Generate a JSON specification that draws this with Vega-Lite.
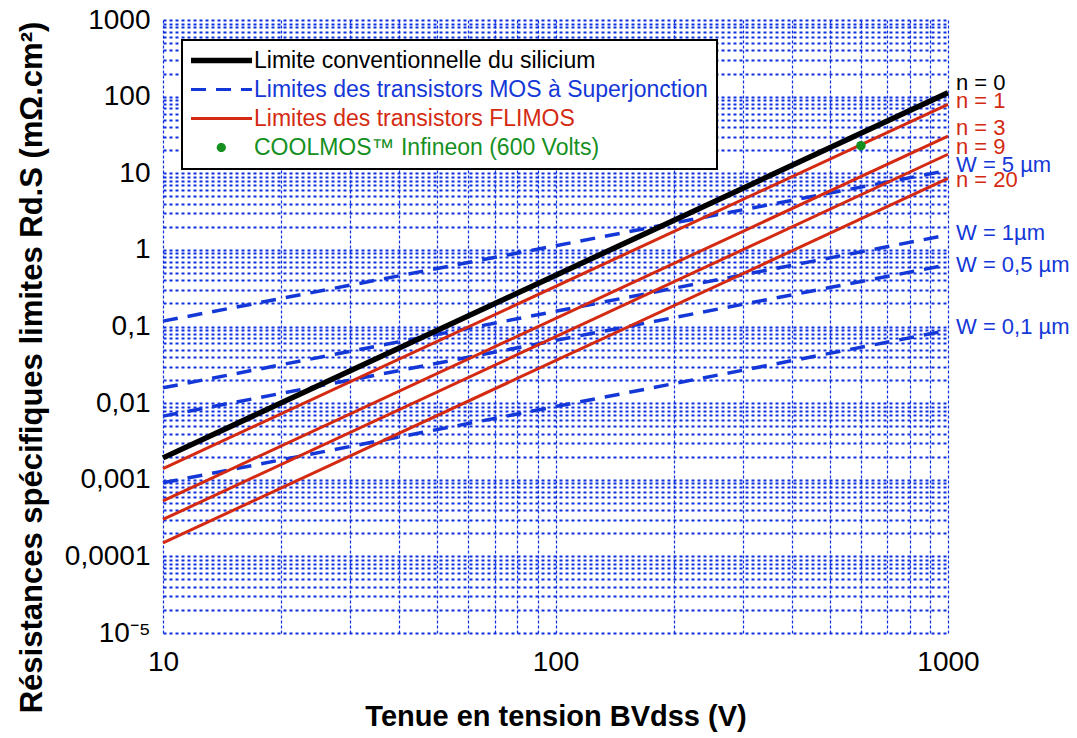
{
  "$schema": "https://vega.github.io/schema/vega-lite/v6.json",
  "width": 785,
  "height": 613,
  "autosize": {"type": "none"},
  "padding": {"left": 163, "top": 20, "right": 129, "bottom": 105},
  "background": "white",
  "config": {
    "view": {"stroke": null},
    "font": "Liberation Sans",
    "axis": {"domain": false, "ticks": false, "tickSize": 0, "labelOverlap": false, "labelFlush": false, "labelBound": false, "gridOpacity": 1, "labelColor": "black", "titleColor": "black", "labelFont": "Liberation Sans", "titleFont": "Liberation Sans", "titleFontWeight": "bold"}
  },
  "encoding": {
    "x": {
      "field": "bv", "type": "quantitative",
      "scale": {"type": "log", "domain": [10, 1000], "nice": false, "zero": false},
      "axis": {
        "values": [10, 20, 30, 40, 50, 60, 70, 80, 90, 100, 200, 300, 400, 500, 600, 700, 800, 900, 1000],
        "labelExpr": "indexof([10, 100, 1000], datum.value) >= 0 ? toString(datum.value) : ''",
        "labelFontSize": 28, "labelPadding": 15,
        "grid": true, "gridColor": "#0d2fe0", "gridDash": [3, 2], "gridWidth": 1.2,
        "title": "Tenue en tension BVdss (V)", "titleFontSize": 29, "titlePadding": 26
      }
    },
    "y": {
      "field": "r", "type": "quantitative",
      "scale": {"type": "log", "domain": [0.00001, 1000], "nice": false, "zero": false},
      "axis": {
        "values": [0.00001, 0.00002, 0.00003, 0.00004, 0.00005, 0.00006, 0.00007, 0.00008, 0.00009,
                   0.0001, 0.0002, 0.0003, 0.0004, 0.0005, 0.0006, 0.0007, 0.0008, 0.0009,
                   0.001, 0.002, 0.003, 0.004, 0.005, 0.006, 0.007, 0.008, 0.009,
                   0.01, 0.02, 0.03, 0.04, 0.05, 0.06, 0.07, 0.08, 0.09,
                   0.1, 0.2, 0.3, 0.4, 0.5, 0.6, 0.7, 0.8, 0.9,
                   1, 2, 3, 4, 5, 6, 7, 8, 9,
                   10, 20, 30, 40, 50, 60, 70, 80, 90,
                   100, 200, 300, 400, 500, 600, 700, 800, 900, 1000],
        "labelExpr": "abs(log(datum.value)/LN10 - round(log(datum.value)/LN10)) > 0.001 ? '' : (datum.value < 0.00005 ? '10⁻⁵' : replace(toString(datum.value), '.', ','))",
        "labelFontSize": 28, "labelPadding": 13,
        "grid": true, "gridColor": "#0d2fe0", "gridDash": [3, 3], "gridWidth": 2.2,
        "title": "Résistances spécifiques limites Rd.S (mΩ.cm²)", "titleFontSize": 31, "titlePadding": 16, "titleY": 347
      }
    },
    "color": {
      "field": "series", "type": "nominal",
      "scale": {
        "domain": ["Limite conventionnelle du silicium", "Limites des transistors MOS à Superjonction", "Limites des transistors FLIMOS", "COOLMOS™ Infineon (600 Volts)"],
        "range": ["#000000", "#1438d8", "#d42a12", "#15901f"]
      },
      "legend": {
        "title": null, "orient": "none", "legendX": 19, "legendY": 20, "direction": "vertical",
        "padding": 9, "labelFont": "Liberation Sans", "labelFontSize": 23, "labelOffset": 40, "labelLimit": 700,
        "rowPadding": 5, "symbolSize": 400, "symbolType": "M-1.15,0H4.95", "symbolStrokeWidth": 3,
        "encode": {
          "legend": {"update": {"stroke": {"value": "black"}, "strokeWidth": {"value": 2}, "fill": {"value": "white"}}},
          "symbols": {"update": {
            "shape": {"signal": "datum.value === 'COOLMOS™ Infineon (600 Volts)' ? 'M2.34,0A0.46,0.46,0,1,1,1.42,0A0.46,0.46,0,1,1,2.34,0Z' : 'M-1.15,0H4.95'"},
            "strokeDash": {"signal": "datum.value === 'Limites des transistors MOS à Superjonction' ? [15, 10] : [1, 0]"},
            "strokeWidth": {"signal": "datum.value === 'Limite conventionnelle du silicium' ? 5.5 : (datum.value === 'COOLMOS™ Infineon (600 Volts)' ? 0 : 3)"},
            "fill": {"signal": "datum.value === 'COOLMOS™ Infineon (600 Volts)' ? '#15901f' : 'transparent'"},
            "stroke": {"signal": "datum.value === 'Limite conventionnelle du silicium' ? '#000000' : (datum.value === 'Limites des transistors MOS à Superjonction' ? '#1438d8' : (datum.value === 'Limites des transistors FLIMOS' ? '#d42a12' : '#15901f'))"},
            "size": {"value": 400},
            "opacity": {"value": 1}
          }},
          "labels": {"update": {
            "fill": {"signal": "datum.value === 'Limite conventionnelle du silicium' ? '#000000' : (datum.value === 'Limites des transistors MOS à Superjonction' ? '#1438d8' : (datum.value === 'Limites des transistors FLIMOS' ? '#d42a12' : '#15901f'))"}
          }}
        }
      }
    }
  },
  "layer": [
    {
      "data": {"values": [
        {"curve": "W = 5", "series": "Limites des transistors MOS à Superjonction", "bv": 10, "r": 0.1175},
        {"curve": "W = 5", "series": "Limites des transistors MOS à Superjonction", "bv": 1000, "r": 10.9},
        {"curve": "W = 1", "series": "Limites des transistors MOS à Superjonction", "bv": 10, "r": 0.01585},
        {"curve": "W = 1", "series": "Limites des transistors MOS à Superjonction", "bv": 1000, "r": 1.57},
        {"curve": "W = 0,5", "series": "Limites des transistors MOS à Superjonction", "bv": 10, "r": 0.00676},
        {"curve": "W = 0,5", "series": "Limites des transistors MOS à Superjonction", "bv": 1000, "r": 0.64},
        {"curve": "W = 0,1", "series": "Limites des transistors MOS à Superjonction", "bv": 10, "r": 0.000912},
        {"curve": "W = 0,1", "series": "Limites des transistors MOS à Superjonction", "bv": 1000, "r": 0.089}
      ]},
      "mark": {"type": "line", "strokeWidth": 3.5, "strokeDash": [15, 10]},
      "encoding": {"detail": {"field": "curve"}}
    },
    {
      "data": {"values": [
        {"curve": "n = 1", "series": "Limites des transistors FLIMOS", "bv": 10, "r": 0.0014},
        {"curve": "n = 1", "series": "Limites des transistors FLIMOS", "bv": 1000, "r": 79.3},
        {"curve": "n = 3", "series": "Limites des transistors FLIMOS", "bv": 10, "r": 0.00053},
        {"curve": "n = 3", "series": "Limites des transistors FLIMOS", "bv": 1000, "r": 30.6},
        {"curve": "n = 9", "series": "Limites des transistors FLIMOS", "bv": 10, "r": 0.000303},
        {"curve": "n = 9", "series": "Limites des transistors FLIMOS", "bv": 1000, "r": 17.7},
        {"curve": "n = 20", "series": "Limites des transistors FLIMOS", "bv": 10, "r": 0.00015},
        {"curve": "n = 20", "series": "Limites des transistors FLIMOS", "bv": 1000, "r": 8.57}
      ]},
      "mark": {"type": "line", "strokeWidth": 3},
      "encoding": {"detail": {"field": "curve"}}
    },
    {
      "data": {"values": [
        {"curve": "n = 0", "series": "Limite conventionnelle du silicium", "bv": 10, "r": 0.00193},
        {"curve": "n = 0", "series": "Limite conventionnelle du silicium", "bv": 1000, "r": 112}
      ]},
      "mark": {"type": "line", "strokeWidth": 5.5},
      "encoding": {"detail": {"field": "curve"}}
    },
    {
      "data": {"values": [
        {"series": "COOLMOS™ Infineon (600 Volts)", "bv": 600, "r": 22.9}
      ]},
      "mark": {"type": "point", "filled": true, "size": 90, "opacity": 1}
    },
    {
      "data": {"values": [
        {"label": "n = 0", "series": "Limite conventionnelle du silicium", "bv": 1000, "r": 149},
        {"label": "n = 1", "series": "Limites des transistors FLIMOS", "bv": 1000, "r": 88.5},
        {"label": "n = 3", "series": "Limites des transistors FLIMOS", "bv": 1000, "r": 38.6},
        {"label": "n = 9", "series": "Limites des transistors FLIMOS", "bv": 1000, "r": 21.8},
        {"label": "W = 5 µm", "series": "Limites des transistors MOS à Superjonction", "bv": 1000, "r": 12.8},
        {"label": "n = 20", "series": "Limites des transistors FLIMOS", "bv": 1000, "r": 8.15},
        {"label": "W = 1µm", "series": "Limites des transistors MOS à Superjonction", "bv": 1000, "r": 1.67},
        {"label": "W = 0,5 µm", "series": "Limites des transistors MOS à Superjonction", "bv": 1000, "r": 0.634},
        {"label": "W = 0,1 µm", "series": "Limites des transistors MOS à Superjonction", "bv": 1000, "r": 0.099}
      ]},
      "mark": {"type": "text", "align": "left", "baseline": "middle", "dx": 8, "fontSize": 22, "font": "Liberation Sans"},
      "encoding": {"text": {"field": "label"}}
    }
  ]
}
